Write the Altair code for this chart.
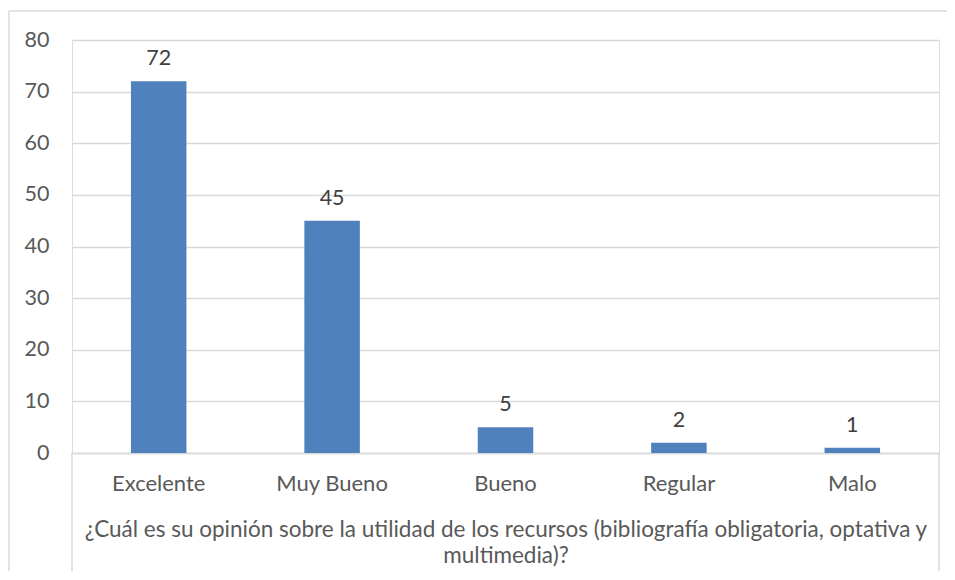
import altair as alt
import pandas as pd

categories = ["Excelente", "Muy Bueno", "Bueno", "Regular", "Malo"]
values = [72, 45, 5, 2, 1]
y_ticks = [0, 10, 20, 30, 40, 50, 60, 70, 80]
axis_title = ["¿Cuál es su opinión sobre la utilidad de los recursos (bibliografía obligatoria, optativa y",
              "multimedia)?"]

df = pd.DataFrame({"cat": categories, "val": values})

FONT = "Lato"
FS = 21.5
TXT = "#595959"
GRID = "#D9D9D9"
BAR = "#4F81BD"

W, H = 867, 413

x_enc = alt.X("cat:N", sort=categories,
              scale=alt.Scale(paddingInner=0.68, paddingOuter=0.34),
              axis=alt.Axis(title=axis_title, labelAngle=0, labelFont=FONT, labelFontSize=22,
                            labelColor=TXT, labelPadding=20, ticks=False, domain=True,
                            domainColor=GRID, domainWidth=1.5,
                            titleFont=FONT, titleFontSize=22.5, titleColor=TXT,
                            titleFontWeight="normal", titlePadding=24, titleLineHeight=26))
y_enc = alt.Y("val:Q", scale=alt.Scale(domain=[0, 80], nice=False),
              axis=alt.Axis(title=None, values=y_ticks, labelFont=FONT, labelFontSize=FS,
                            labelColor=TXT, labelPadding=23, ticks=False, domain=False,
                            gridColor=GRID, gridWidth=1.5))

base = alt.Chart(df)
bars = base.mark_bar(color=BAR).encode(x=x_enc, y=y_enc)
labels = base.mark_text(font=FONT, fontSize=FS, color="#404040", baseline="bottom", dy=-11).encode(
    x=alt.X("cat:N", sort=categories), y="val:Q", text="val:Q")

deco = alt.Chart(pd.DataFrame({"d": [0]}))
left_line = deco.mark_rule(color=GRID, strokeWidth=1.5).encode(
    x=alt.value(0), y=alt.value(H), y2=alt.value(H + 124))
right_line = deco.mark_rule(color=GRID, strokeWidth=1.5).encode(
    x=alt.value(W), y=alt.value(H), y2=alt.value(H + 122))
outer_left = deco.mark_rule(color=GRID, strokeWidth=1.5).encode(
    x=alt.value(-63), y=alt.value(-29), y2=alt.value(H + 130))
outer_top = deco.mark_rule(color=GRID, strokeWidth=1.5).encode(
    x=alt.value(-63), x2=alt.value(W + 8), y=alt.value(-29))

chart = alt.layer(bars, labels, left_line, right_line, outer_left, outer_top).properties(
    width=W, height=H,
    autosize=alt.AutoSizeParams(type="none"),
    padding={"left": 64, "top": 32, "right": 8, "bottom": 118},
).configure_view(stroke=None).configure(background="white")

chart.save("out.html", embed_options={"renderer": "svg", "actions": False})
